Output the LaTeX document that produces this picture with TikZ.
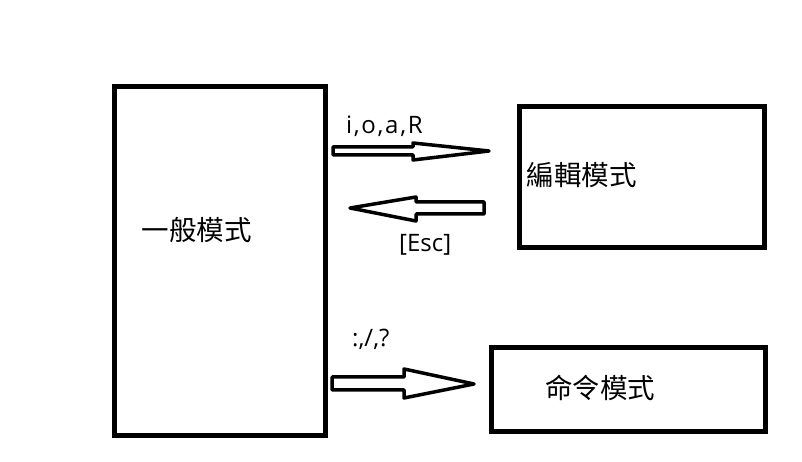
\documentclass[tikz,border=0pt]{standalone}
\usepackage{fontspec}
\setmainfont{Open Sans}
\newfontfamily\cjk{Noto Sans CJK TC}
\begin{document}
\begin{tikzpicture}[x=1pt,y=1pt,
  modebox/.style={draw,line width=5pt,inner sep=0pt,rectangle},
  cjklabel/.style={anchor=west,inner sep=0pt,font=\cjk\fontsize{27.5}{32}\selectfont},
  keylabel/.style={anchor=base west,inner sep=0pt,font=\fontsize{24}{28}\selectfont},
  blockarrow/.style={draw,line width=3.5pt,line join=round,fill=white}]
\useasboundingbox (0,0) rectangle (802,462);
\node[modebox,minimum width=211pt,minimum height=349pt] (normal) at (220,201) {};
\node[modebox,minimum width=244.5pt,minimum height=141.5pt] (edit) at (641.75,284.75) {};
\node[modebox,minimum width=273.5pt,minimum height=84pt] (cmd) at (628.25,72.5) {};
\node[cjklabel] (tnormal) at (141.5,231.5) {一般模式};
\node[cjklabel] (tedit) at (526.5,287) {編輯模式};
\node[cjklabel] (tcmd) at (545,74) {命令模式};
\node[keylabel] (kins) at (346,328.7) {\addfontfeature{LetterSpace=7}i,o,a,R};
\node[keylabel] (kesc) at (399,210) {[Esc]};
\node[keylabel] (kcmd) at (352,115) {:,/,?};
% normal -> edit
\draw[blockarrow] (333,315) -- (413,315) -- (413,319) -- (489,311) -- (413,302) -- (413,307) -- (333,307) -- cycle;
% edit -> normal
\draw[blockarrow] (350,254) -- (416,265) -- (416,260) -- (484,260) -- (484,248) -- (416,248) -- (416,241) -- cycle;
% normal -> command
\draw[blockarrow] (332,85) -- (404,85) -- (404,93) -- (474,78) -- (404,64) -- (404,72) -- (332,72) -- cycle;
\end{tikzpicture}
\end{document}
